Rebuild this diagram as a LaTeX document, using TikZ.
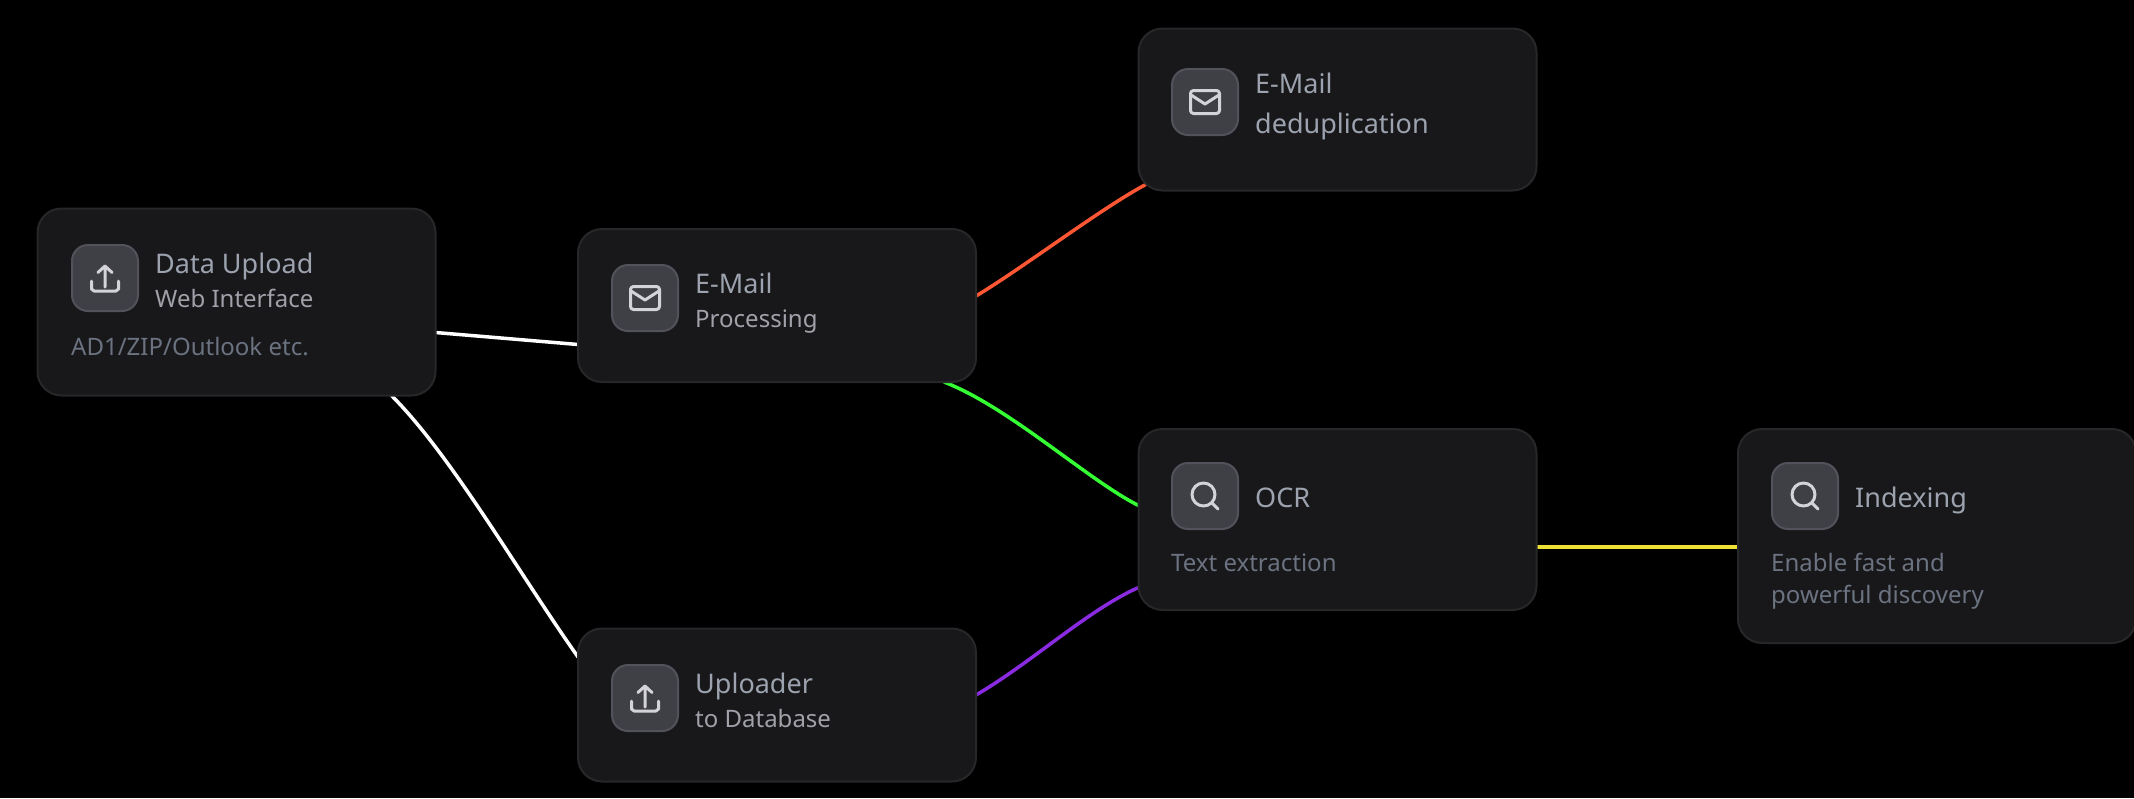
\documentclass[tikz,border=0pt]{standalone}
\usepackage{fontspec}
\usepackage{xcolor}
\setmainfont{Noto Sans}
\usetikzlibrary{backgrounds}
\definecolor{cardfill}{HTML}{18181B}
\definecolor{cardline}{HTML}{27272A}
\definecolor{iconfill}{HTML}{3F3F46}
\definecolor{iconline}{HTML}{52525B}
\definecolor{glyphcol}{HTML}{D4D4D8}
\definecolor{titlecol}{HTML}{9CA3AF}
\definecolor{subcol}{HTML}{A1A1AA}
\definecolor{desccol}{HTML}{6B7280}
\definecolor{orangeline}{HTML}{FF5733}
\definecolor{greenline}{HTML}{33FF33}
\definecolor{purpleline}{HTML}{8A2BE2}
\definecolor{yellowline}{HTML}{EDE233}
\begin{document}
\begin{tikzpicture}[
    x                   = 1pt,
    y                   = -1pt,
    card/.style         = {draw=cardline, fill=cardfill, line width=2pt, rounded corners=24pt,
                           minimum width=398pt, anchor=north west, outer sep=0pt},
    iconbox/.style      = {draw=iconline, fill=iconfill, line width=2pt, rounded corners=16pt,
                           minimum size=66pt, outer sep=0pt},
    titletext/.style    = {font=\fontsize{27}{32}\selectfont, text=titlecol, anchor=base west, inner sep=0pt},
    subtext/.style      = {font=\fontsize{24}{32}\selectfont, text=subcol, anchor=base west, inner sep=0pt},
    desctext/.style     = {font=\fontsize{24}{32}\selectfont, text=desccol, anchor=base west, inner sep=0pt},
    link/.style         = {line width=3.5pt},
    glyph/.style        = {draw=glyphcol, line width=3pt, line cap=round, line join=round},
    uploadglyph/.pic    = {\draw[glyph] (-13.5,3) -- (-13.5,11) -- (-11,13) -- (11,13) -- (13.5,11) -- (13.5,3);
                           \draw[glyph] (0,9) -- (0,-12) (-7,-5.5) -- (0,-12) -- (7,-5.5);},
    mailglyph/.pic      = {\draw[glyph, rounded corners=3pt] (-14.5,-11.5) rectangle (14.5,11.5);
                           \draw[glyph] (-14,-7) -- (0,2) -- (14,-7);},
    searchglyph/.pic    = {\draw[glyph] (-1.5,-1.5) circle (11.5);
                           \draw[glyph] (7,7) -- (13,13);}
  ]
\useasboundingbox (0,0) rectangle (2134,798);
\begin{scope}[on background layer]
  \fill[black] (0,0) rectangle (2134,798);
\end{scope}

\node[card, minimum height=187pt] (data)   at (37.5,208.5) {};
\node[card, minimum height=153pt] (email)  at (578,229) {};
\node[card, minimum height=153pt] (upload) at (578,628.5) {};
\node[card, minimum height=162pt] (dedup)  at (1138.5,28.5) {};
\node[card, minimum height=181pt] (ocr)    at (1138.5,429) {};
\node[card, minimum height=214pt] (index)  at (1738,429) {};

\node[iconbox] (dataicon)   at (105,278) {};
\node[iconbox] (emailicon)  at (645,298) {};
\node[iconbox] (uploadicon) at (645,698) {};
\node[iconbox] (dedupicon)  at (1205,102) {};
\node[iconbox] (ocricon)    at (1205,496) {};
\node[iconbox] (indexicon)  at (1805,496) {};

\pic at (dataicon)   {uploadglyph};
\pic at (emailicon)  {mailglyph};
\pic at (uploadicon) {uploadglyph};
\pic at (dedupicon)  {mailglyph};
\pic at (ocricon)    {searchglyph};
\pic at (indexicon)  {searchglyph};

\node[titletext] (datatitle)   at (155,273)  {Data Upload};
\node[subtext]   (datasub)     at (155,307)  {Web Interface};
\node[desctext]  (datadesc)    at (71,355)   {AD1/ZIP/Outlook etc.};
\node[titletext] (emailtitle)  at (695,293)  {E-Mail};
\node[subtext]   (emailsub)    at (695,327)  {Processing};
\node[titletext] (uploadtitle) at (695,693)  {Uploader};
\node[subtext]   (uploadsub)   at (695,727)  {to Database};
\node[titletext] (deduptitle)  at (1255,93)  {E-Mail};
\node[titletext] (dedupsub)    at (1255,133) {deduplication};
\node[titletext] (ocrtitle)    at (1255,507) {OCR};
\node[desctext]  (ocrdesc)     at (1171,571) {Text extraction};
\node[titletext] (indextitle)  at (1855,507) {Indexing};
\node[desctext]  (indexdesc)   at (1771,571) {Enable fast and};
\node[desctext]  (indexdescb)  at (1771,603) {powerful discovery};

\begin{scope}[on background layer]
  \draw[link, white] ([yshift=-30.5pt]data.east) -- ([yshift=-39pt]email.west);
  \draw[link, white] ([xshift=-44pt]data.south east)
    .. controls +(60,60) and +(-60,-85) .. ([yshift=48pt]upload.west);
  \draw[link, orangeline] ([yshift=9.5pt]email.east)
    .. controls +(50,-30) and +(-45,22) .. ([xshift=15pt,yshift=10pt]dedup.south west);
  \draw[link, greenline] ([xshift=-32pt]email.south east)
    .. controls +(65,25) and +(-50,-25) .. ([yshift=14pt]ocr.west);
  \draw[link, purpleline] ([yshift=10pt]upload.east)
    .. controls +(55,-32) and +(-50,22) .. ([yshift=-68pt]ocr.west);
  \draw[link, yellowline] (ocr.east |- index.west) ++(0,11) -- ([yshift=-11pt]index.west);
\end{scope}
\end{tikzpicture}
\end{document}
